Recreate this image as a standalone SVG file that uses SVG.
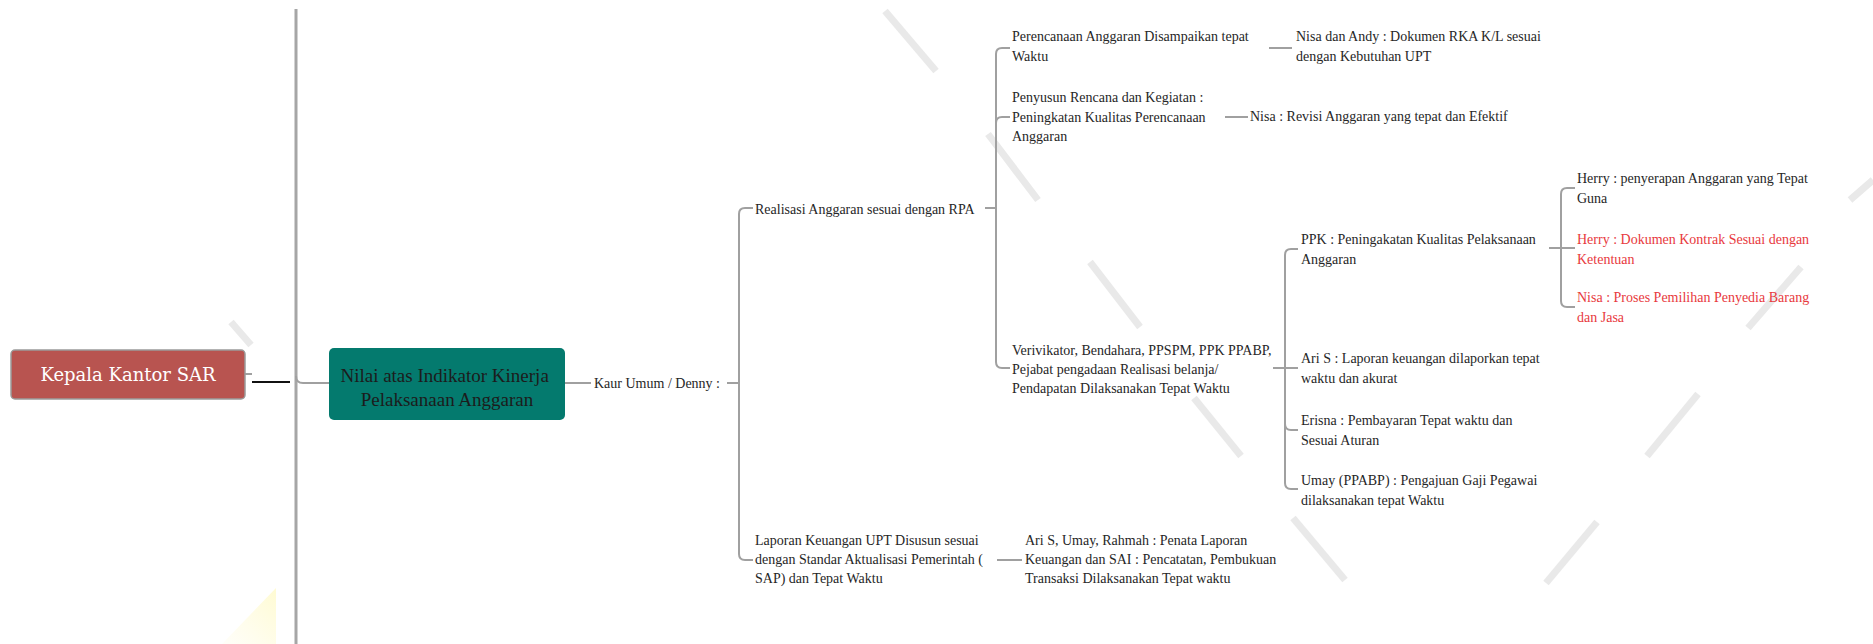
<svg xmlns="http://www.w3.org/2000/svg" width="1873" height="644" viewBox="0 0 1873 644">
  <style>
    .t { font-family: "Liberation Serif", "Times New Roman", serif; font-size: 14px; fill: #262626; }
    .red { fill: #e8393d; }
    .conn { fill: none; stroke: #a0a0a0; stroke-width: 2; }
    .wm { stroke: #e9e9e9; stroke-width: 7; stroke-linecap: butt; }
  </style>
  <defs>
    <linearGradient id="glow" x1="0" y1="1" x2="1" y2="0">
      <stop offset="0" stop-color="#fffbe0" stop-opacity="0.2"/>
      <stop offset="1" stop-color="#fffbd2" stop-opacity="1"/>
    </linearGradient>
  </defs>

  <rect width="1873" height="644" fill="#ffffff"/>

  <!-- background watermark strokes -->
  <g id="watermark">
    <line class="wm" x1="231" y1="322" x2="251" y2="345"/>
    <line class="wm" x1="885" y1="11" x2="936" y2="71"/>
    <line class="wm" x1="988" y1="134" x2="1038" y2="200"/>
    <line class="wm" x1="1090" y1="262" x2="1140" y2="327"/>
    <line class="wm" x1="1194" y1="398" x2="1241" y2="456"/>
    <line class="wm" x1="1293" y1="518" x2="1345" y2="580"/>
    <line class="wm" x1="1850" y1="200" x2="1873" y2="180"/>
    <line class="wm" x1="1748" y1="328" x2="1801" y2="267"/>
    <line class="wm" x1="1647" y1="456" x2="1698" y2="394"/>
    <line class="wm" x1="1546" y1="583" x2="1597" y2="522"/>
    <polygon points="222,644 276,588 276,644" fill="url(#glow)"/>
  </g>

  <!-- connectors -->
  <g id="connectors">
    <line x1="296" y1="9" x2="296" y2="644" stroke="#a6a6a6" stroke-width="3"/>
    <path class="conn" d="M296,376 Q296,383 303,383 H329"/>
    <line x1="245" y1="374" x2="252" y2="374" stroke="#a0a0a0" stroke-width="2"/>
    <line x1="252" y1="382" x2="290" y2="382" stroke="#111111" stroke-width="2"/>
    <line class="conn" x1="565" y1="383" x2="591" y2="383"/>
    <!-- Kaur Umum bracket -->
    <line class="conn" x1="727" y1="383" x2="739" y2="383"/>
    <path class="conn" d="M739,383 V214 Q739,208 745,208 H753"/>
    <path class="conn" d="M739,383 V554 Q739,560 745,560 H753"/>
    <!-- Realisasi bracket -->
    <line class="conn" x1="985" y1="208" x2="996" y2="208"/>
    <path class="conn" d="M996,208 V54 Q996,48 1002,48 H1010"/>
    <path class="conn" d="M996,208 V123 Q996,117 1002,117 H1010"/>
    <path class="conn" d="M996,208 V362 Q996,368 1002,368 H1010"/>
    <line class="conn" x1="1269" y1="48" x2="1292" y2="48"/>
    <line class="conn" x1="1225" y1="117" x2="1248" y2="117"/>
    <!-- Verivikator bracket -->
    <line class="conn" x1="1273" y1="368" x2="1298" y2="368"/>
    <path class="conn" d="M1285,368 V255 Q1285,249 1291,249 H1298"/>
    <path class="conn" d="M1285,368 V424 Q1285,430 1291,430 H1298"/>
    <path class="conn" d="M1285,368 V483 Q1285,489 1291,489 H1298"/>
    <!-- PPK bracket -->
    <line class="conn" x1="1549" y1="248" x2="1575" y2="248"/>
    <path class="conn" d="M1561,248 V194 Q1561,188 1567,188 H1575"/>
    <path class="conn" d="M1561,248 V301 Q1561,307 1567,307 H1575"/>
    <!-- Laporan keuangan -->
    <line class="conn" x1="997" y1="560" x2="1022" y2="560"/>
  </g>

  <g id="kepala-kantor">
    <rect x="11" y="350" width="234" height="49" rx="4" fill="#b85450" stroke="#9a9a9a" stroke-width="1.5"/>
    <text x="128" y="381" text-anchor="middle" font-family="'DejaVu Serif', serif" font-size="18" fill="#ffffff">Kepala Kantor SAR</text>
  </g>

  <g id="nilai-kinerja">
    <rect x="329" y="348" width="236" height="72" rx="5" fill="#047a6e"/>
    <text x="447" y="382" text-anchor="middle" font-family="'Liberation Serif', serif" font-size="19" fill="#1c1c1c">
      <tspan x="447">Nilai atas Indikator Kinerja</tspan>
      <tspan x="447" dy="24">Pelaksanaan Anggaran</tspan>
    </text>
  </g>

  <g id="kaur-umum">
    <text class="t" x="594" y="388">Kaur Umum / Denny :</text>
  </g>

  <g id="realisasi">
    <text class="t" x="755" y="214">Realisasi Anggaran sesuai dengan RPA</text>
  </g>

  <g id="perencanaan">
    <text class="t" x="1012" y="41"><tspan x="1012">Perencanaan Anggaran Disampaikan tepat</tspan><tspan x="1012" dy="19.5">Waktu</tspan></text>
  </g>

  <g id="nisa-andy">
    <text class="t" x="1296" y="41"><tspan x="1296">Nisa dan Andy : Dokumen RKA K/L sesuai</tspan><tspan x="1296" dy="19.5">dengan Kebutuhan UPT</tspan></text>
  </g>

  <g id="penyusun">
    <text class="t" x="1012" y="102"><tspan x="1012">Penyusun Rencana dan Kegiatan :</tspan><tspan x="1012" dy="19.5">Peningkatan Kualitas Perencanaan</tspan><tspan x="1012" dy="19.5">Anggaran</tspan></text>
  </g>

  <g id="nisa-revisi">
    <text class="t" x="1250" y="121">Nisa : Revisi Anggaran yang tepat dan Efektif</text>
  </g>

  <g id="verivikator">
    <text class="t" x="1012" y="355"><tspan x="1012">Verivikator, Bendahara, PPSPM, PPK PPABP,</tspan><tspan x="1012" dy="19">Pejabat pengadaan Realisasi belanja/</tspan><tspan x="1012" dy="19">Pendapatan Dilaksanakan Tepat Waktu</tspan></text>
  </g>

  <g id="ppk">
    <text class="t" x="1301" y="244"><tspan x="1301">PPK : Peningakatan Kualitas Pelaksanaan</tspan><tspan x="1301" dy="19.5">Anggaran</tspan></text>
  </g>

  <g id="herry-penyerapan">
    <text class="t" x="1577" y="183"><tspan x="1577">Herry : penyerapan Anggaran yang Tepat</tspan><tspan x="1577" dy="19.5">Guna</tspan></text>
  </g>

  <g id="herry-kontrak">
    <text class="t red" x="1577" y="244"><tspan x="1577">Herry : Dokumen Kontrak Sesuai dengan</tspan><tspan x="1577" dy="19.5">Ketentuan</tspan></text>
  </g>

  <g id="nisa-proses">
    <text class="t red" x="1577" y="302"><tspan x="1577">Nisa : Proses Pemilihan Penyedia Barang</tspan><tspan x="1577" dy="19.5">dan Jasa</tspan></text>
  </g>

  <g id="ari-laporan">
    <text class="t" x="1301" y="363"><tspan x="1301">Ari S : Laporan keuangan dilaporkan tepat</tspan><tspan x="1301" dy="19.5">waktu dan akurat</tspan></text>
  </g>

  <g id="erisna">
    <text class="t" x="1301" y="425"><tspan x="1301">Erisna : Pembayaran Tepat waktu dan</tspan><tspan x="1301" dy="19.5">Sesuai Aturan</tspan></text>
  </g>

  <g id="umay">
    <text class="t" x="1301" y="485"><tspan x="1301">Umay (PPABP) : Pengajuan Gaji Pegawai</tspan><tspan x="1301" dy="19.5">dilaksanakan tepat Waktu</tspan></text>
  </g>

  <g id="laporan-keuangan">
    <text class="t" x="755" y="545"><tspan x="755">Laporan Keuangan UPT Disusun sesuai</tspan><tspan x="755" dy="19">dengan Standar Aktualisasi Pemerintah (</tspan><tspan x="755" dy="19">SAP) dan Tepat Waktu</tspan></text>
  </g>

  <g id="penata-laporan">
    <text class="t" x="1025" y="545"><tspan x="1025">Ari S, Umay, Rahmah : Penata Laporan</tspan><tspan x="1025" dy="19">Keuangan dan SAI : Pencatatan, Pembukuan</tspan><tspan x="1025" dy="19">Transaksi Dilaksanakan Tepat waktu</tspan></text>
  </g>
</svg>
